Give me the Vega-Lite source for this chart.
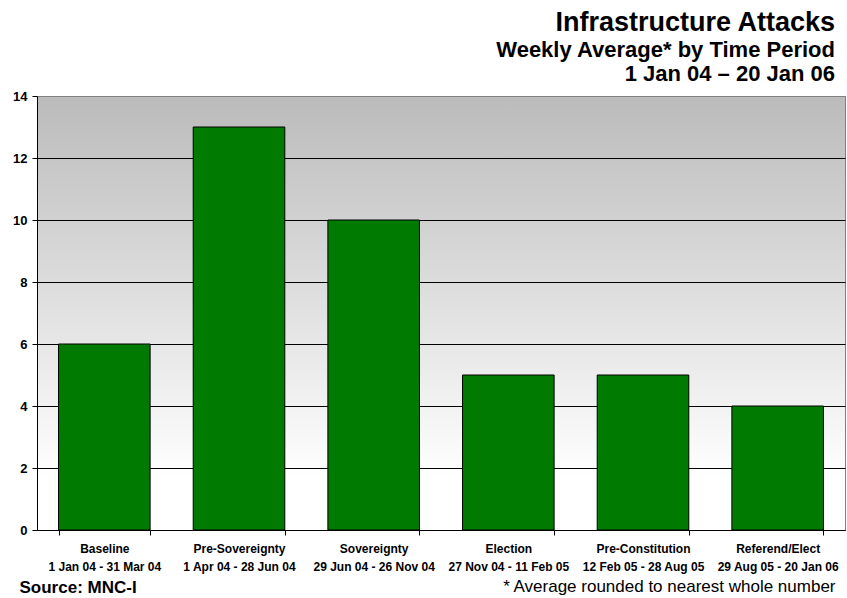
{
  "$schema": "https://vega.github.io/schema/vega-lite/v6.json",
  "width": 808,
  "height": 434,
  "autosize": {"type": "none"},
  "padding": {"left": 37, "top": 96, "right": 2, "bottom": 68},
  "background": "white",
  "title": {
    "text": "Infrastructure Attacks",
    "subtitle": ["Weekly Average* by Time Period", "1 Jan 04 – 20 Jan 06"],
    "anchor": "end",
    "frame": "group",
    "font": "Liberation Sans",
    "fontSize": 27,
    "fontWeight": "bold",
    "color": "black",
    "subtitleFont": "Liberation Sans",
    "subtitleFontSize": 22,
    "subtitleFontWeight": "bold",
    "subtitleColor": "black",
    "subtitleLineHeight": 24,
    "subtitlePadding": 3,
    "offset": 4,
    "dx": -10
  },
  "data": {
    "values": [
      {"period": "Baseline", "dates": "1 Jan 04 - 31 Mar 04", "weekly_avg": 6},
      {"period": "Pre-Sovereignty", "dates": "1 Apr 04 - 28 Jun 04", "weekly_avg": 13},
      {"period": "Sovereignty", "dates": "29 Jun 04 - 26 Nov 04", "weekly_avg": 10},
      {"period": "Election", "dates": "27 Nov 04 - 11 Feb 05", "weekly_avg": 5},
      {"period": "Pre-Constitution", "dates": "12 Feb 05 - 28 Aug 05", "weekly_avg": 5},
      {"period": "Referend/Elect", "dates": "29 Aug 05 - 20 Jan 06", "weekly_avg": 4}
    ]
  },
  "transform": [{"calculate": "datum.period + '|' + datum.dates", "as": "label"}],
  "mark": {"type": "bar", "fill": "#007a00", "stroke": "black", "strokeWidth": 1},
  "encoding": {
    "x": {
      "field": "label",
      "type": "nominal",
      "sort": null,
      "scale": {"paddingInner": 0.32, "paddingOuter": 0.16},
      "axis": {
        "labelAngle": 0,
        "labelExpr": "split(datum.label, '|')",
        "labelFont": "Liberation Sans",
        "labelFontSize": 12,
        "labelFontWeight": "bold",
        "labelColor": "black",
        "labelLineHeight": 18,
        "labelPadding": 8,
        "labelBaseline": "top",
        "tickBand": "extent",
        "tickSize": 5,
        "tickColor": "black",
        "domainColor": "black",
        "title": "* Average rounded to nearest whole number",
        "titleFont": "Liberation Sans",
        "titleFontSize": 17,
        "titleFontWeight": "normal",
        "titleColor": "black",
        "titleX": 798,
        "titleY": 61,
        "titleAlign": "right",
        "titleBaseline": "alphabetic",
        "titleAnchor": null
      }
    },
    "y": {
      "field": "weekly_avg",
      "type": "quantitative",
      "scale": {"domain": [0, 14], "nice": false},
      "axis": {
        "values": [0, 2, 4, 6, 8, 10, 12, 14],
        "labelFont": "Liberation Sans",
        "labelFontSize": 13,
        "labelFontWeight": "bold",
        "labelColor": "black",
        "labelPadding": 5,
        "tickSize": 5,
        "tickColor": "black",
        "domainColor": "black",
        "grid": true,
        "gridColor": {"condition": {"test": "datum.value == 14", "value": "#808080"}, "value": "black"},
        "gridOpacity": 1,
        "title": "Source: MNC-I",
        "titleAngle": 0,
        "titleFont": "Liberation Sans",
        "titleFontSize": 17,
        "titleFontWeight": "bold",
        "titleColor": "black",
        "titleX": -18,
        "titleY": 496,
        "titleAlign": "left",
        "titleBaseline": "alphabetic",
        "titleAnchor": null
      }
    }
  },
  "config": {
    "view": {
      "fill": {
        "gradient": "linear",
        "x1": 0, "y1": 0, "x2": 0, "y2": 1,
        "stops": [
          {"offset": 0, "color": "#bbbbbb"},
          {"offset": 0.88, "color": "#ffffff"},
          {"offset": 1, "color": "#ffffff"}
        ]
      },
      "stroke": "#808080"
    }
  }
}
